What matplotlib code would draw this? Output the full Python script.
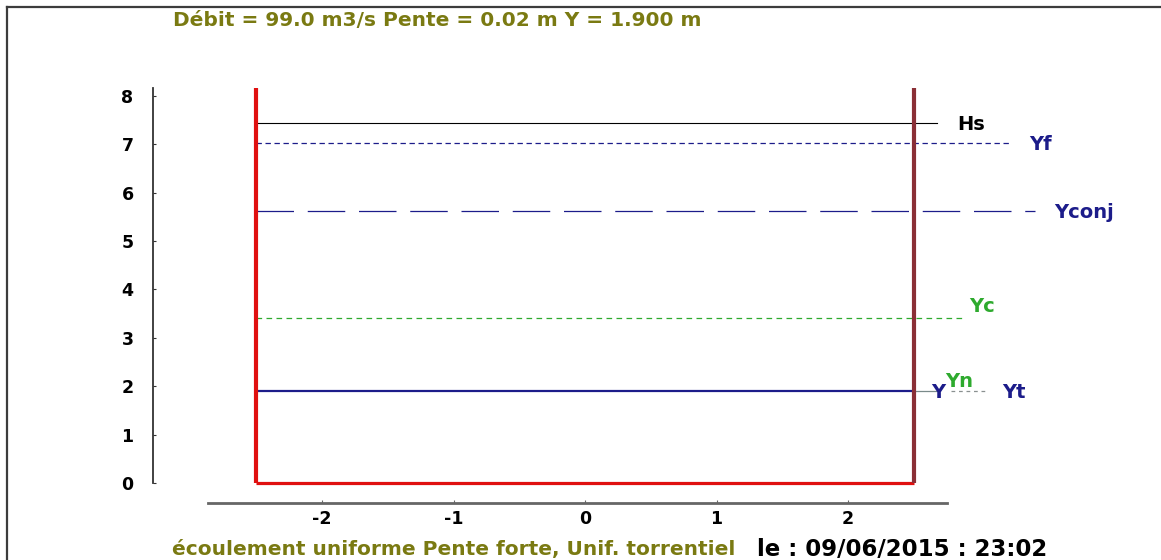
import matplotlib
matplotlib.use('Agg')
import matplotlib.pyplot as plt
from matplotlib.lines import Line2D

# Données du canal
debit = 99.0
pente = 0.02
y_normal = 1.900
demi_largeur = 2.5
hauteur_mur = 8.17

noms_niveaux = ['Hs', 'Yf', 'Yconj', 'Yc', 'Y']
valeurs_niveaux = [7.44, 7.02, 5.62, 3.41, 1.90]
fins_niveaux = [2.68, 3.25, 3.42, 2.87, 2.5]

yticks = [0, 1, 2, 3, 4, 5, 6, 7, 8]
xticks = [-2, -1, 0, 1, 2]

OLIVE = '#7a7a12'
NAVY = '#1c1c8a'
GREEN = '#2eaa2e'
RED = '#e01010'
BRUN = '#8a2f36'

plt.rcParams['font.family'] = ['DejaVu Sans']
plt.rcParams['font.weight'] = 'bold'

fig = plt.figure(figsize=(11.61, 5.6), dpi=100)
ax = fig.add_axes([0, 0, 1, 1])
ax.set_xlim(-4.4487, 4.3802)
ax.set_ylim(-1.5909, 9.9793)

# Cadre de la fenêtre
fig.add_artist(Line2D([7 / 1161, 7 / 1161], [0, 1 - 7 / 560], color='#3c3c3c',
                      lw=1.6, transform=fig.transFigure))
fig.add_artist(Line2D([7 / 1161, 1], [1 - 7 / 560, 1 - 7 / 560], color='#3c3c3c',
                      lw=1.6, transform=fig.transFigure))

# Axes
for s in ['top', 'right']:
    ax.spines[s].set_visible(False)
ax.spines['left'].set_position(('data', -3.285))
ax.spines['left'].set_bounds(0, hauteur_mur)
ax.spines['left'].set_color('#333333')
ax.spines['left'].set_linewidth(1.3)
ax.spines['bottom'].set_position(('data', -0.413))
ax.spines['bottom'].set_bounds(-2.87, 2.75)
ax.spines['bottom'].set_color('#666666')
ax.spines['bottom'].set_linewidth(2)
ax.set_yticks(yticks)
ax.set_yticklabels([str(v) for v in yticks])
ax.set_xticks(xticks)
ax.set_xticklabels([str(v) for v in xticks])
ax.tick_params(axis='y', direction='in', length=2, pad=14, labelsize=12.5,
               colors='#333333', labelcolor='black')
ax.tick_params(axis='x', direction='in', length=2, pad=5, labelsize=12.5,
               colors='#666666', labelcolor='black')
for lab in ax.get_xticklabels() + ax.get_yticklabels():
    lab.set_fontweight('bold')

# Niveaux
styles = {
    'Hs': dict(color='black', lw=0.8, ls='-'),
    'Yf': dict(color=NAVY, lw=0.9, ls=(0, (4.3, 2.9))),
    'Yconj': dict(color=NAVY, lw=0.9, ls=(0, (30, 11))),
    'Yc': dict(color=GREEN, lw=0.9, ls=(0, (4.5, 3.5))),
    'Y': dict(color=NAVY, lw=1.6, ls='-'),
}
for nom, val, fin in zip(noms_niveaux, valeurs_niveaux, fins_niveaux):
    ax.plot([-demi_largeur, fin], [val, val], zorder=2, **styles[nom])

decalages = {'Hs': (14, -1), 'Yf': (12, -1), 'Yconj': (14, -1), 'Yc': (5, 8)}
couleurs = {'Hs': 'black', 'Yf': NAVY, 'Yconj': NAVY, 'Yc': GREEN}
for nom, val, fin in zip(noms_niveaux, valeurs_niveaux, fins_niveaux):
    if nom in decalages:
        ax.annotate(nom, (fin, val), xytext=decalages[nom], textcoords='offset points',
                    ha='left', va='center', fontsize=14, fontweight='bold',
                    color=couleurs[nom])

# Prolongement de Y après le mur
ax.plot([demi_largeur, 2.67], [y_normal, y_normal], color='#7a8a8a', lw=0.9, zorder=2)
ax.plot([2.78, 3.04], [y_normal, y_normal], color='#8a9090', lw=0.9,
        ls=(0, (3, 3)), zorder=2)
ax.text(2.63, y_normal - 0.03, 'Y', color=NAVY, fontsize=14, fontweight='bold',
        ha='left', va='center')
ax.text(2.74, y_normal + 0.2, 'Yn', color=GREEN, fontsize=14, fontweight='bold',
        ha='left', va='center')
ax.text(3.17, y_normal - 0.04, 'Yt', color=NAVY, fontsize=14, fontweight='bold',
        ha='left', va='center')

# Section du canal
ax.plot([-demi_largeur, demi_largeur], [0, 0], color=RED, lw=2.3, zorder=3,
        solid_capstyle='butt')
ax.plot([-demi_largeur, -demi_largeur], [0, hauteur_mur], color=RED, lw=3,
        zorder=3, solid_capstyle='butt')
ax.plot([demi_largeur, demi_largeur], [0, hauteur_mur], color=BRUN, lw=3,
        zorder=3, solid_capstyle='butt')

# Textes
fig.text(173 / 1161, 1 - 20 / 560,
         f'Débit = {debit:.1f} m3/s Pente = {pente:.2f} m Y = {y_normal:.3f} m',
         color=OLIVE, fontsize=14.5, fontweight='bold', ha='left', va='center')
fig.text(172 / 1161, 1 - 549 / 560,
         'écoulement uniforme Pente forte, Unif. torrentiel',
         color=OLIVE, fontsize=14.5, fontweight='bold', ha='left', va='center')
fig.text(757 / 1161, 1 - 549 / 560, 'le : 09/06/2015 : 23:02',
         color='black', fontsize=16.5, fontweight='bold', ha='left', va='center')

fig.savefig('out.png', dpi=100)
